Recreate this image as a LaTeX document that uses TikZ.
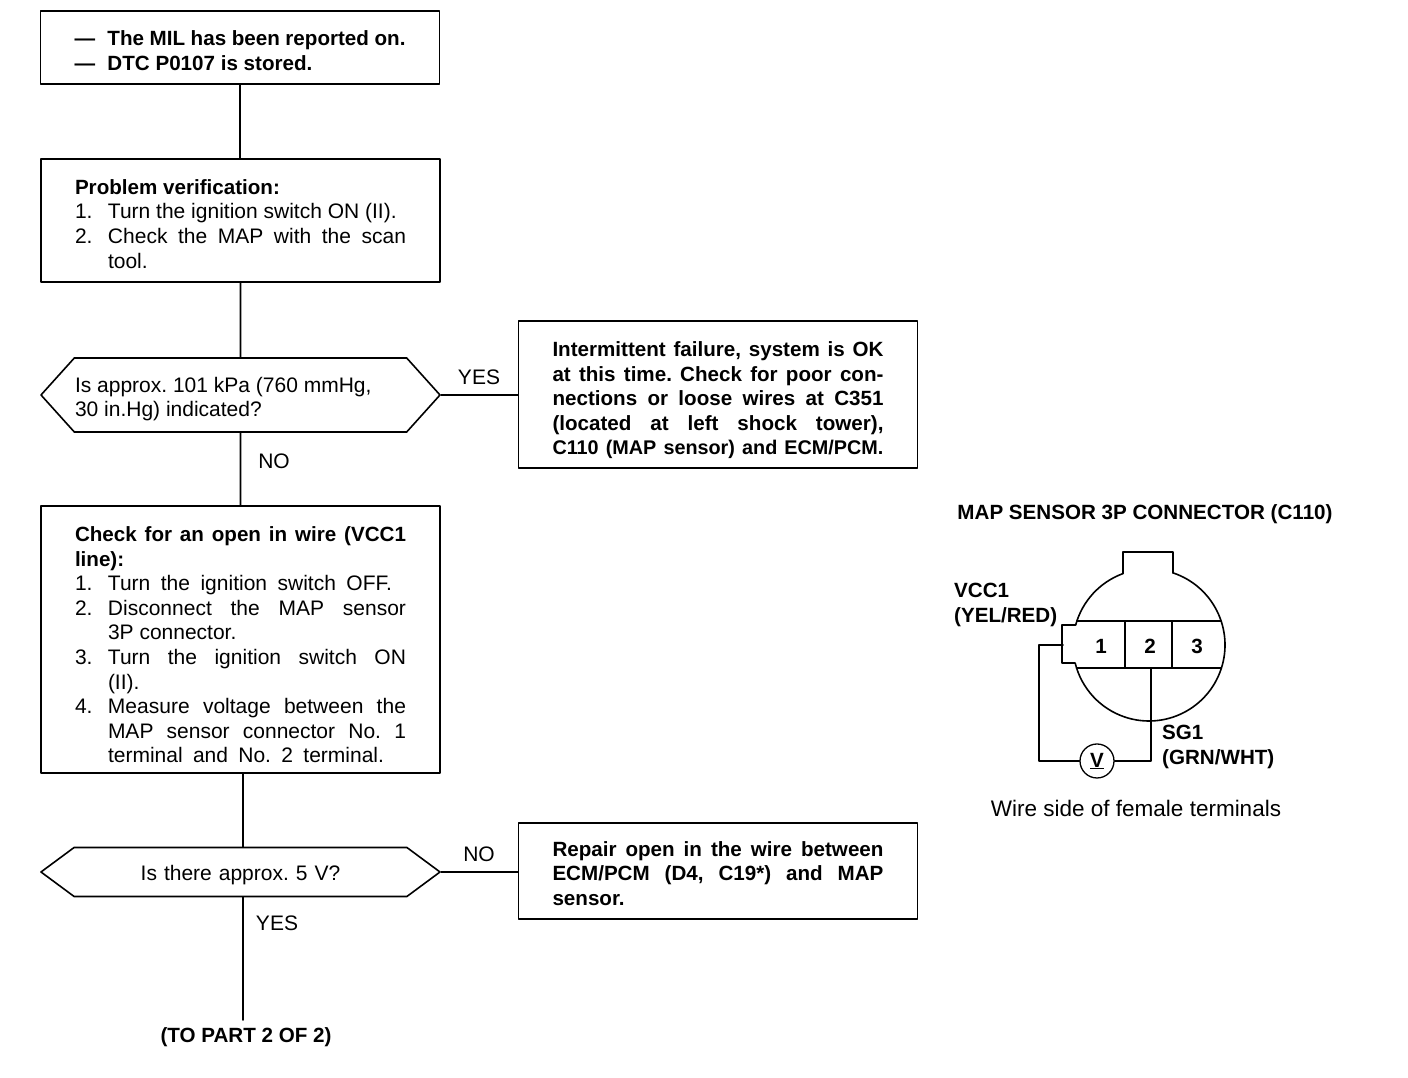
\documentclass[tikz,border=0pt]{standalone}
\usepackage{fontspec}
\setmainfont{Liberation Sans}
\usetikzlibrary{calc, shapes.symbols}
\newcommand{\fitline}[1]{\leavevmode\hbox to 331pt{#1}}
\newcommand{\numline}[2]{\leavevmode\hbox to 33pt{#1\hss}#2}
\newcommand{\numto}[3]{\leavevmode\hbox to #1pt{\hbox to 33pt{#2\hss}#3}}
\newcommand{\plaintext}{\fontsize{21}{24.6}\selectfont\frenchspacing}
\newcommand{\boldtext}{\fontsize{20.6}{24.6}\selectfont\bfseries\frenchspacing}
\tikzset{
	topgap/.style={execute at begin node={\rule{0pt}{#1}}},
	flowbox/.style={draw, line width=1.6pt, rectangle, inner sep=0pt, minimum width=399pt, text width=331pt, align=flush left},
	sidebox/.style={flowbox, font=\boldtext},
	hexbox/.style={draw, line width=1.6pt, shape=signal, signal to=west and east, inner sep=0pt, text width=331pt, minimum width=399pt, align=flush left},
	wire/.style={line width=1.6pt},
	thinwire/.style={line width=1.3pt},
	tag/.style={inner sep=0pt, align=flush left},
	boldtag/.style={tag, font=\boldtext},
}
\begin{document}
\begin{tikzpicture}[x=1pt, y=1pt, line cap=round, line join=round, font=\plaintext]
	\useasboundingbox (0,0) rectangle (1408,1078);
	
	% ===== Left: flow chart =====
	\node[flowbox, topgap=21.5pt, minimum height=73pt, font=\boldtext] (reported) at (240,1030.5)
		{\numline{---}{The MIL has been reported on.}\\ \numline{---}{DTC P0107 is stored.}};
	\node[flowbox, topgap=21.5pt, minimum height=123pt] (verify) at (240.5,857.5)
		{{\boldtext Problem verification:}\\
		\numline{1.}{Turn the ignition switch ON (II).}\\
		\numto{331}{2.}{Check the MAP with the scan}\\
		\numline{}{tool.}};
	\node[hexbox, topgap=23.5pt, minimum height=74pt, signal pointer angle=96] (kpa) at (240.5,683)
		{Is approx. 101 kPa (760 mmHg,\\ 30 in.Hg) indicated?};
	\node[flowbox, topgap=25.5pt, minimum height=267pt] (openchk) at (240.5,438.5)
		{\fitline{\boldtext Check for an open in wire (VCC1}\\
		{\boldtext line):}\\
		\numto{317}{1.}{Turn the ignition switch OFF.}\\
		\numto{331}{2.}{Disconnect the MAP sensor}\\
		\numline{}{3P connector.}\\
		\numto{331}{3.}{Turn the ignition switch ON}\\
		\numline{}{(II).}\\
		\numto{331}{4.}{Measure voltage between the}\\
		\numto{331}{}{MAP sensor connector No. 1}\\
		\numto{309}{}{terminal and No. 2 terminal.}};
	\node[hexbox, topgap=21.5pt, minimum height=49pt, signal pointer angle=73, align=center] (volts) at (240.5,206)
		{Is there approx. 5 V?};
	
	% right hand answers
	\node[sidebox, topgap=26.5pt, minimum height=147pt] (intermit) at (718,683.5)
		{\fitline{Intermittent failure, system is OK}\\
		\fitline{at this time. Check for poor con-}\\
		\fitline{nections or loose wires at C351}\\
		\fitline{(located at left shock tower),}\\
		\fitline{\fontsize{19.8}{24.6}\selectfont C110 (MAP sensor) and ECM/PCM.}};
	\node[sidebox, topgap=19.5pt, minimum height=96pt] (repair) at (718,207)
		{\fitline{Repair open in the wire between}\\
		\fitline{ECM/PCM (D4, C19*) and MAP}\\
		sensor.};
	
	\coordinate (partend) at (243,58);
	\node[boldtag] (nextpart) at (246,40.5) {(TO PART 2 OF 2)};
	
	\draw[wire] (reported.south) -- (reported.south |- verify.north);
	\draw[wire] (verify) -- (kpa);
	\draw[wire] (kpa) -- (openchk);
	\draw[wire] (openchk.south -| partend) -- (volts.north -| partend);
	\draw[wire] (volts.south -| partend) -- (partend);
	\draw[wire] (kpa.east) -- (kpa.east -| intermit.west);
	\draw[wire] (volts.east) -- (volts.east -| repair.west);
	
	\node[tag] (yes1) at (479,701) {YES};
	\node[tag] (no1) at (274,617) {NO};
	\node[tag] (no2) at (479,224) {NO};
	\node[tag] (yes2) at (277,155) {YES};
	
	% ===== Right: connector view =====
	\begin{scope}
		\node[boldtag] (mapname) at (1145,564) {MAP SENSOR 3P CONNECTOR (C110)};
		\coordinate (plug) at (1149,433);
		% housing silhouette
		\draw[wire] (plug) ++(71.6:76) arc (71.6:-166:76);
		\draw[wire] (plug) ++(110:76) arc (110:164.7:76);
		\draw[wire] (1123,504.5) -- (1123,526) -- (1173,526) -- (1173,505);
		\draw[wire] (1075,415) -- (1062,415) -- (1062,453) -- (1075.5,453);
		% terminal row
		\draw[thinwire] (1077,457) -- (1221,457) (1077,410) -- (1221,410);
		\draw[thinwire] (1125,457) -- (1125,410) (1172,457) -- (1172,410);
		\node[boldtag] (pinone) at (1101,432) {1};
		\node[boldtag] (pintwo) at (1150,432) {2};
		\node[boldtag] (pinthree) at (1197,432) {3};
		% meter
		\node[draw, circle, line width=1.3pt, minimum size=34pt, inner sep=0pt, font=\boldtext] (meter) at (1097,317) {\underline{V}};
		\coordinate (pinonewire) at (1063,433);
		\coordinate (pintwowire) at (1151,410);
		\draw[wire] (pinonewire) -- (1039,433) |- (meter.west);
		\draw[wire] (meter.east) -| (pintwowire);
		\node[boldtag, anchor=west] (vccname) at (954,473) {VCC1\\(YEL/RED)};
		\node[boldtag, anchor=west] (sgname) at (1162,331) {SG1\\(GRN/WHT)};
		\node[tag, font=\fontsize{22.5}{24.6}\selectfont] (wireside) at (1136,270) {Wire side of female terminals};
	\end{scope}
	
\end{tikzpicture}
\end{document}
